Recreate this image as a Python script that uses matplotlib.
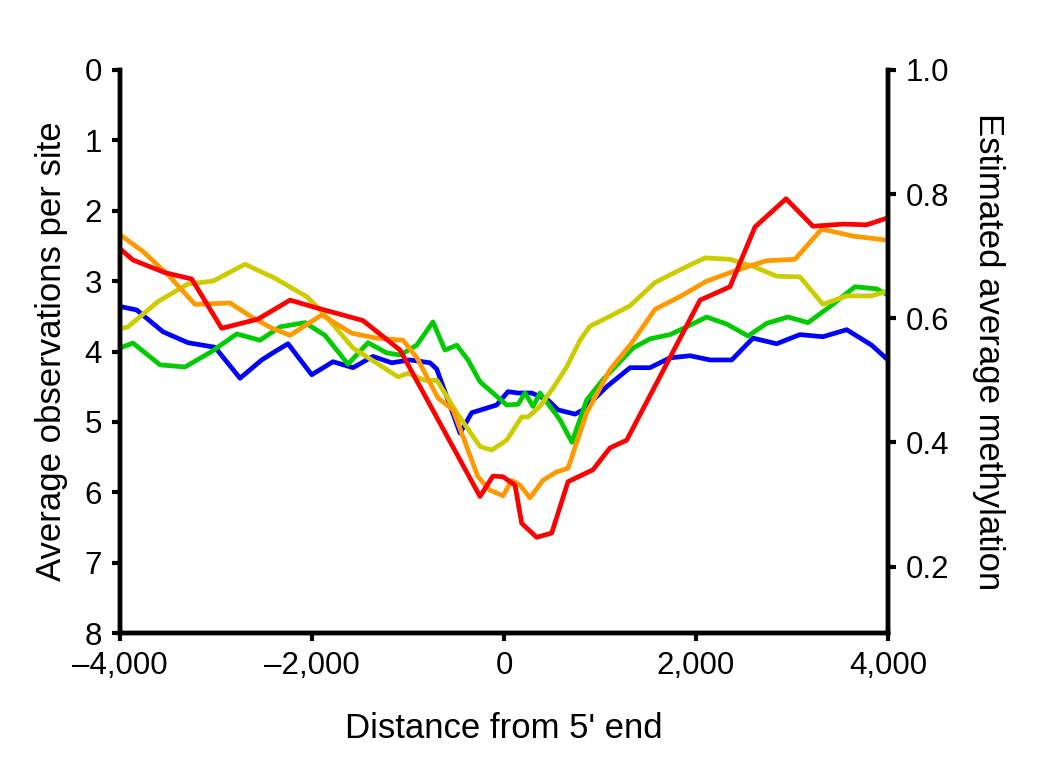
import matplotlib
matplotlib.use("Agg")
import matplotlib.pyplot as plt
from matplotlib.ticker import FuncFormatter

plt.rcParams['font.family'] = ['Liberation Sans', 'DejaVu Sans']

# distance from 5' end (bp) and average observations per site, one pair per line
blue_x = [-4000, -3826, -3552, -3292, -3010, -2750, -2524, -2385, -2250, -2003, -1781, -1573,
          -1365, -1170, -979, -771, -701, -458, -336, -76, 42, 146, 289, 458, 563, 740, 823,
          1070, 1313, 1521, 1729, 1938, 2146, 2372, 2594, 2840, 3083, 3323, 3570, 3830, 4000]
blue_y = [3.36, 3.41, 3.72, 3.875, 3.94, 4.38, 4.12, 4.00, 3.89, 4.33, 4.145, 4.23,
          4.07, 4.16, 4.12, 4.16, 4.25, 5.16, 4.87, 4.76, 4.57, 4.59, 4.59, 4.69, 4.83, 4.89, 4.83,
          4.50, 4.23, 4.23, 4.09, 4.06, 4.12, 4.12, 3.81, 3.89, 3.76, 3.79, 3.69, 3.91, 4.12]

green_x = [-4000, -3865, -3583, -3323, -3045, -2784, -2542, -2333, -2073, -1865, -1625, -1417,
           -1222, -1083, -909, -740, -615, -493, -375, -250, -115, 28, 146, 219, 302, 375, 479,
           583, 708, 861, 1031, 1344, 1521, 1729, 1903, 2111, 2320, 2542, 2736, 2958, 3167,
           3396, 3656, 3882, 4000]
green_y = [3.95, 3.88, 4.19, 4.22, 4.00, 3.75, 3.84, 3.65, 3.59, 3.77, 4.18, 3.875,
           4.02, 4.05, 3.91, 3.58, 3.98, 3.91, 4.12, 4.43, 4.59, 4.76, 4.75, 4.59, 4.78, 4.59, 4.78,
           4.97, 5.29, 4.69, 4.40, 3.95, 3.82, 3.76, 3.65, 3.51, 3.61, 3.78, 3.60, 3.51, 3.59,
           3.36, 3.08, 3.11, 3.20]

yellow_x = [-4000, -3917, -3604, -3292, -3031, -2698, -2385, -2055, -1885, -1573, -1104, -1000,
            -823, -698, -493, -406, -250, -128, 28, 184, 250, 375, 510, 653, 792, 896, 1104,
            1313, 1573, 1833, 2094, 2354, 2594, 2840, 3083, 3323, 3570, 3830, 4000]
yellow_y = [3.68, 3.65, 3.29, 3.04, 3.00, 2.76, 2.96, 3.22, 3.45, 3.95, 4.36, 4.31,
            4.41, 4.41, 4.87, 5.04, 5.35, 5.40, 5.26, 4.93, 4.93, 4.78, 4.52, 4.22, 3.84, 3.64, 3.50,
            3.35, 3.02, 2.84, 2.67, 2.69, 2.79, 2.93, 2.94, 3.33, 3.21, 3.21, 3.14]

orange_x = [-4000, -3760, -3500, -3219, -2854, -2628, -2417, -2229, -1899, -1586, -1326, -1052,
            -906, -688, -531, -271, -146, -10, 80, 167, 271, 406, 549, 667, 861, 1104, 1330,
            1573, 1833, 2111, 2354, 2528, 2736, 3031, 3309, 3635, 4000]
orange_y = [2.34, 2.58, 2.91, 3.33, 3.31, 3.51, 3.67, 3.77, 3.48, 3.74, 3.81, 3.84,
            4.09, 4.66, 4.83, 5.78, 5.97, 6.05, 5.83, 5.90, 6.08, 5.83, 5.71, 5.66, 4.87, 4.26, 3.88,
            3.40, 3.22, 3.00, 2.88, 2.80, 2.71, 2.69, 2.26, 2.36, 2.42]

red_x = [-4000, -3865, -3531, -3253, -2941, -2563, -2229, -1951, -1469, -1083, -250, -115,
         -10, 115, 184, 340, 497, 667, 927, 1104, 1278, 2042, 2354, 2615, 2938, 3219, 3531,
         3778, 4000]
red_y = [2.54, 2.70, 2.88, 2.97, 3.67, 3.54, 3.27, 3.38, 3.56, 3.98, 6.06, 5.77,
         5.78, 5.90, 6.44, 6.64, 6.58, 5.85, 5.68, 5.37, 5.26, 3.27, 3.08, 2.23, 1.83, 2.22, 2.19,
         2.20, 2.10]

x_ticks = [-4000, -2000, 0, 2000, 4000]
left_ticks = [0, 1, 2, 3, 4, 5, 6, 7, 8]
right_ticks = [0.2, 0.4, 0.6, 0.8, 1.0]

fig = plt.figure(figsize=(10.5, 7.75), dpi=100)
ax = fig.add_axes([0.1143, 0.1832, 0.7314, 0.7265])

lw = 3.4
ax.plot(blue_x, blue_y, color='#0000ff', lw=lw)
ax.plot(green_x, green_y, color='#00cc00', lw=lw)
ax.plot(yellow_x, yellow_y, color='#cccc00', lw=lw)
ax.plot(orange_x, orange_y, color='#ff9900', lw=lw)
ax.plot(red_x, red_y, color='#ff0000', lw=lw)

ax.set_xlim(-4000, 4000)
ax.set_ylim(8, 0)
ax.set_xticks(x_ticks)
ax.set_yticks(left_ticks)
ax.xaxis.set_major_formatter(FuncFormatter(lambda v, p: '{:,}'.format(int(v)).replace('-', '\u2013')))

ax2 = ax.twinx()
ax2.set_ylim(0.093, 1.0)
ax2.set_yticks(right_ticks)
ax2.set_yticklabels(['%.1f' % t for t in right_ticks])

for a in (ax, ax2):
    a.spines['top'].set_visible(False)
    for s in a.spines.values():
        s.set_linewidth(3.2)
    a.tick_params(width=3.0, length=6, labelsize=22.5, pad=7)

ax.set_xlabel('Distance from 5\' end', fontsize=25, labelpad=22)
ax.set_ylabel('Average observations per site', fontsize=25, labelpad=12)
ax2.set_ylabel('Estimated average methylation', fontsize=25, rotation=270, labelpad=40)

fig.savefig('out.png', dpi=100)
